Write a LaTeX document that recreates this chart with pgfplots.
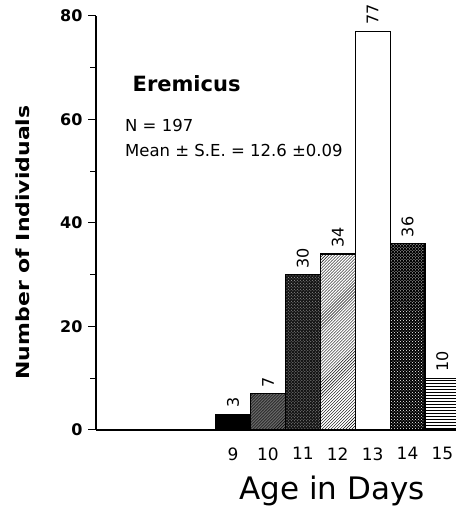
\documentclass[border=0pt]{standalone}
\usepackage{fontspec}
\setmainfont{DejaVu Sans}
\usepackage{pgfplots}
\pgfplotsset{compat=1.18}
\usetikzlibrary{patterns}
\newcommand\fs[1]{\fontsize{#1bp}{#1bp}\selectfont}
\begin{document}
\begin{tikzpicture}[x=1bp,y=1bp]
\useasboundingbox (0,0) rectangle (456,509);
\begin{axis}[
  at={(96bp,79bp)}, anchor=south west,
  scale only axis, width=360bp, height=414bp,
  xmin=5.07, xmax=15.39, ymin=0, ymax=80,
  clip=false,
  axis x line*=bottom, axis y line*=left,
  axis line style={line width=1.1bp},
  /pgf/number format/assume math mode=true,
  ytick={0,20,40,60,80}, minor ytick={10,30,50,70},
  tick align=outside,
  major tick length=8bp, minor tick length=6bp,
  every tick/.style={line width=1bp, black},
  xtick={9,...,15},
  xtick style={draw=none},
  yticklabel style={font=\bfseries\fs{16}, xshift=-2bp},
  xticklabel style={font=\fs{17}, yshift=-6bp},
  xlabel={Age in Days},
  xlabel style={font=\fs{31}, at={(axis description cs:0.656,-0.169)}, anchor=base},
  ylabel={\scalebox{1.22}[1]{Number of Individuals}},
  ylabel style={font=\bfseries\fs{18}, at={(axis description cs:-0.203,0.453)}, anchor=center, rotate=0},
  ybar, bar width=1,
  every axis plot/.append style={bar shift=0pt, draw=black, line width=1.1bp},
  nodes near coords,
  nodes near coords style={rotate=90, anchor=west, font=\fs{16}, inner sep=6bp, black},
]
\addplot[fill=black] coordinates {(9,3)};
\addplot[fill=black!60, postaction={pattern=north east lines, pattern color=black}] coordinates {(10,7)};
\addplot[fill=black!92, postaction={pattern=crosshatch dots, pattern color=gray!70}] coordinates {(11,30)};
\addplot[fill=white, postaction={pattern=north east lines, pattern color=black}] coordinates {(12,34)};
\addplot[fill=white] coordinates {(13,77)};
\addplot[fill=black, postaction={pattern=crosshatch dots, pattern color=white}] coordinates {(14,36)};
\addplot[fill=white, postaction={pattern=horizontal lines, pattern color=black}] coordinates {(15,10)};
\node[anchor=base west, font=\bfseries\fs{21}] at (axis cs:6.02,65.5) {Eremicus};
\node[anchor=base west, font=\fs{16.5}, inner sep=0pt] at (axis cs:5.9,57.6) {N = 197};
\node[anchor=base west, font=\fs{16.5}, inner sep=0pt] at (axis cs:5.9,52.8) {Mean ± S.E. = 12.6 ±0.09};
\end{axis}
\end{tikzpicture}
\end{document}
